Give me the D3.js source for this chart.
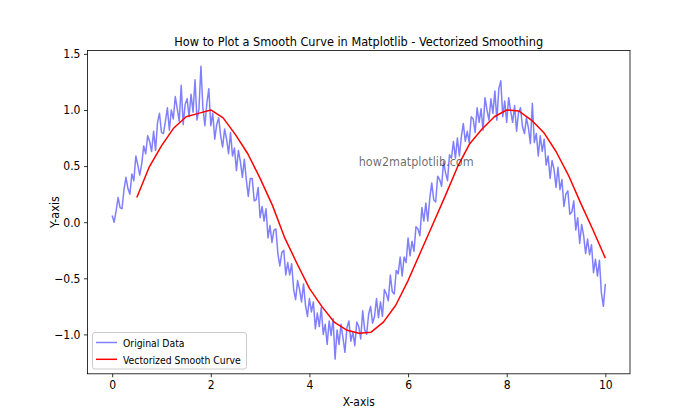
<!DOCTYPE html>
<html>
<head>
<meta charset="utf-8">
<script src="https://cdn.jsdelivr.net/npm/d3@7"></script>
<style>
  html, body { margin: 0; padding: 0; background: #fff; }
  svg { display: block; }
  text { font-family: 'Liberation Sans Narrow', 'DejaVu Sans Condensed', 'Noto Sans', sans-serif; }
</style>
</head>
<body>
<svg id="chart" width="700" height="420"></svg>
<script>
// ---- data ----
const xStart = 0, xStep = 0.04;
const originalData = [
  0.06,0.00,0.10,0.22,0.13,0.12,0.29,0.40,0.30,0.25,
  0.43,0.37,0.59,0.51,0.42,0.52,0.68,0.61,0.77,0.72,
  0.63,0.81,0.64,0.89,0.97,0.80,0.79,0.90,1.02,0.82,
  1.00,0.92,1.12,1.01,0.90,1.22,0.87,1.05,1.10,0.94,
  1.14,0.98,1.27,0.91,1.01,1.39,1.02,0.86,1.06,1.19,
  0.86,0.97,0.74,0.87,0.93,0.77,0.67,0.83,0.74,0.61,
  0.80,0.59,0.66,0.46,0.64,0.54,0.40,0.56,0.38,0.23,
  0.39,0.39,0.19,0.20,0.31,0.04,0.14,0.01,0.12,-0.14,
  -0.03,-0.18,-0.07,-0.06,-0.28,-0.39,-0.27,-0.25,-0.47,-0.36,
  -0.47,-0.37,-0.60,-0.69,-0.52,-0.60,-0.71,-0.55,-0.74,-0.84,
  -0.68,-0.80,-0.71,-0.95,-0.81,-0.93,-0.76,-1.00,-0.91,-1.09,
  -0.88,-1.01,-0.86,-1.22,-0.96,-1.09,-0.91,-1.03,-1.16,-0.94,
  -0.88,-1.06,-0.98,-1.10,-0.89,-0.93,-1.04,-0.79,-0.96,-1.00,
  -0.82,-0.75,-0.90,-0.84,-0.68,-0.85,-0.71,-0.84,-0.60,-0.64,
  -0.70,-0.47,-0.62,-0.64,-0.43,-0.46,-0.31,-0.48,-0.31,-0.36,
  -0.14,-0.30,-0.17,-0.26,-0.04,-0.06,-0.12,0.13,0.01,0.17,
  0.01,0.21,0.35,0.20,0.18,0.41,0.38,0.32,0.54,0.44,
  0.37,0.60,0.57,0.72,0.57,0.75,0.59,0.76,0.88,0.72,
  0.81,0.71,0.94,0.92,0.80,1.02,0.89,1.01,0.82,1.11,
  1.00,0.91,1.10,0.97,1.17,0.91,1.19,1.26,0.94,1.08,
  0.89,1.11,0.99,0.89,1.04,0.81,0.98,1.02,0.85,0.79,
  0.93,0.84,0.70,1.06,0.71,0.79,0.59,0.77,0.63,0.74,
  0.51,0.59,0.39,0.55,0.47,0.31,0.49,0.29,0.38,0.14,
  0.25,0.28,0.07,0.09,0.19,-0.07,0.04,-0.19,-0.02,-0.12,
  -0.28,-0.15,-0.29,-0.20,-0.45,-0.33,-0.48,-0.34,-0.63,-0.75,
  -0.55
];
const smoothX = [0.5,0.75,1.0,1.25,1.5,1.75,2.0,2.25,2.5,2.75,3.0,3.25,3.5,3.75,4.0,4.25,4.5,4.75,5.0,5.25,
  5.5,5.75,6.0,6.25,6.5,6.75,7.0,7.25,7.5,7.75,8.0,8.25,8.5,8.75,9.0,9.25,9.5,9.75,10.0];
const smoothY = [0.22,0.49,0.68,0.84,0.94,0.97,1.00,0.93,0.78,0.61,0.39,0.15,-0.14,-0.37,-0.59,-0.75,-0.89,-0.96,-0.99,-0.98,
  -0.89,-0.74,-0.52,-0.27,-0.02,0.23,0.49,0.70,0.83,0.94,1.00,0.99,0.91,0.80,0.63,0.42,0.17,-0.07,-0.32];
const xTicks = [0, 2, 4, 6, 8, 10];
const yTicks = [-1.0, -0.5, 0.0, 0.5, 1.0, 1.5];
const seriesNames = ["Original Data", "Vectorized Smooth Curve"];
const titleText = "How to Plot a Smooth Curve in Matplotlib - Vectorized Smoothing";
const xLabel = "X-axis", yLabel = "Y-axis", watermark = "how2matplotlib.com";

// ---- layout ----
const L = 87.5, R = 630, T = 50.4, B = 373.8;
const svg = d3.select("#chart");
const x = d3.scaleLinear().domain([-0.5, 10.5]).range([L, R]);
const y = d3.scaleLinear().domain([-1.351, 1.531]).range([B, T]);

const pts = originalData.map((v, i) => [xStart + i * xStep, v]);
const smooth = smoothX.map((v, i) => [v, smoothY[i]]);

function fit(sel, w, base) {
  sel.attr("font-size", base);
  const l = sel.node().getComputedTextLength();
  sel.attr("font-size", base * w / l);
  return sel;
}

const line = d3.line().x(d => x(d[0])).y(d => y(d[1]));
const plot = svg.append("g");
plot.append("path").datum(pts).attr("d", line)
  .attr("fill", "none").attr("stroke", "blue").attr("stroke-opacity", 0.5)
  .attr("stroke-width", 1.5).attr("stroke-linejoin", "round");
plot.append("path").datum(smooth).attr("d", line)
  .attr("fill", "none").attr("stroke", "red")
  .attr("stroke-width", 1.5).attr("stroke-linejoin", "round");

// watermark
const wm = svg.append("text").attr("x", x(5)).attr("y", y(0.5))
  .attr("fill", "#000").attr("fill-opacity", 0.6).text(watermark);
fit(wm, 115, 14);

// axes
const xAxis = svg.append("g").attr("transform", `translate(0,${B})`)
  .call(d3.axisBottom(x).tickValues(xTicks).tickFormat(d3.format("d")).tickSize(3.5).tickPadding(3.5));
const yAxis = svg.append("g").attr("transform", `translate(${L},0)`)
  .call(d3.axisLeft(y).tickValues(yTicks).tickFormat(d3.format(".1f")).tickSize(3.5).tickPadding(3.5));
[xAxis, yAxis].forEach(g => {
  g.select(".domain").remove();
  g.selectAll(".tick line").attr("stroke", "#000").attr("stroke-width", 0.8);
  g.selectAll(".tick text").attr("fill", "#000").attr("font-size", 12)
    .style("font-family", "'Liberation Sans Narrow', 'DejaVu Sans Condensed', 'Noto Sans', sans-serif");
});
svg.append("rect").attr("x", L).attr("y", T).attr("width", R - L).attr("height", B - T)
  .attr("fill", "none").attr("stroke", "#000").attr("stroke-width", 0.8);

// title & labels
const title = svg.append("text").attr("x", (L + R) / 2).attr("y", 45.5)
  .attr("text-anchor", "middle").attr("fill", "#000").text(titleText);
fit(title, 369, 16);
const xl = svg.append("text").attr("x", (L + R) / 2).attr("y", 406)
  .attr("text-anchor", "middle").attr("fill", "#000").text(xLabel);
fit(xl, 32, 13);
const yl = svg.append("text").attr("transform", `translate(59,${(T + B) / 2}) rotate(-90)`)
  .attr("text-anchor", "middle").attr("fill", "#000").text(yLabel);
fit(yl, 32, 13);

// legend
const lg = svg.append("g");
lg.append("rect").attr("x", 92.5).attr("y", 332.5).attr("width", 154).attr("height", 36.5)
  .attr("rx", 2.5).attr("fill", "#fff").attr("fill-opacity", 0.8)
  .attr("stroke", "#ccc").attr("stroke-width", 1);
const colors = ["rgba(0,0,255,0.5)", "red"];
seriesNames.forEach((n, i) => {
  const yy = 342.5 + i * 16.8;
  lg.append("line").attr("x1", 96).attr("x2", 117).attr("y1", yy).attr("y2", yy)
    .attr("stroke", colors[i]).attr("stroke-width", 1.5);
  const t = lg.append("text").attr("x", 123).attr("y", yy + 4.3).attr("fill", "#000").text(n);
  if (i === 1) fit(t, 118, 13); else t.attr("font-size", 13);
});
const sz = lg.selectAll("text").filter((d, i) => i === 1).attr("font-size");
lg.selectAll("text").attr("font-size", sz);
</script>
</body>
</html>
